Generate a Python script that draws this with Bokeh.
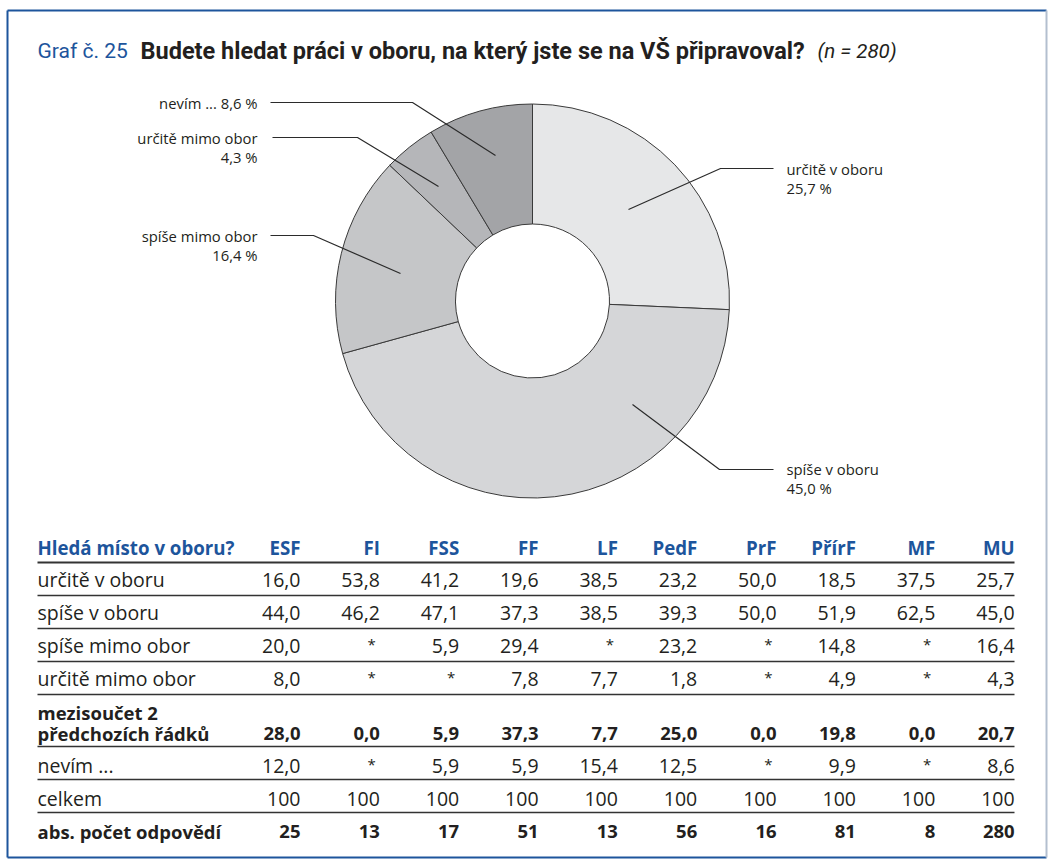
import numpy as np
from bokeh.plotting import figure
from bokeh.models import Range1d
from bokeh.core.properties import value
from bokeh.embed import file_html
from bokeh.resources import INLINE

# ---------------- data ----------------
pie_labels = ["určitě v oboru", "spíše v oboru", "spíše mimo obor", "určitě mimo obor", "nevím ..."]
pie_values = [25.7, 45.0, 16.4, 4.3, 8.6]
pie_colors = ["#e6e7e8", "#d5d6d8", "#c5c6c8", "#b5b6b9", "#a3a4a7"]

faculties = ["ESF", "FI", "FSS", "FF", "LF", "PedF", "PrF", "PřírF", "MF", "MU"]
row_labels = ["určitě v oboru", "spíše v oboru", "spíše mimo obor", "určitě mimo obor",
              "mezisoučet 2\npředchozích řádků", "nevím ...", "celkem", "abs. počet odpovědí"]
urcite_v = [16.0, 53.8, 41.2, 19.6, 38.5, 23.2, 50.0, 18.5, 37.5, 25.7]
spise_v = [44.0, 46.2, 47.1, 37.3, 38.5, 39.3, 50.0, 51.9, 62.5, 45.0]
spise_mimo = [20.0, None, 5.9, 29.4, None, 23.2, None, 14.8, None, 16.4]
urcite_mimo = [8.0, None, None, 7.8, 7.7, 1.8, None, 4.9, None, 4.3]
mezisoucet = [28.0, 0.0, 5.9, 37.3, 7.7, 25.0, 0.0, 19.8, 0.0, 20.7]
nevim = [12.0, None, 5.9, 5.9, 15.4, 12.5, None, 9.9, None, 8.6]
celkem = [100, 100, 100, 100, 100, 100, 100, 100, 100, 100]
abs_pocet = [25, 13, 17, 51, 13, 56, 16, 81, 8, 280]

rows = [urcite_v, spise_v, spise_mimo, urcite_mimo, mezisoucet, nevim, celkem, abs_pocet]
bold_rows = [False, False, False, False, True, False, False, True]

# ---------------- layout helpers ----------------
W, H = 1048, 862
def X(rx):
    return rx
def Y(ry):
    return H - ry

BLUE = "#1d559c"
TXT = "#231f20"
FONT = "Open Sans"

p = figure(width=W, height=H, x_range=Range1d(0, W), y_range=Range1d(0, H),
           output_backend="svg", toolbar_location=None, min_border=0,
           x_axis_type=None, y_axis_type=None)
p.outline_line_color = None
p.grid.visible = False
p.background_fill_color = "white"
p.border_fill_color = "white"

# frame
p.line(x=[X(7), X(1046)], y=[Y(10), Y(10)], line_color=BLUE, line_width=2)
p.line(x=[X(7), X(7)], y=[Y(10), Y(857)], line_color=BLUE, line_width=2)
p.line(x=[X(7), X(1046)], y=[Y(857), Y(857)], line_color=BLUE, line_width=2)
p.line(x=[X(1046), X(1046)], y=[Y(10), Y(857)], line_color="#b3bfcf", line_width=2)

# title
p.text(x=[X(37)], y=[Y(50)], text=["Graf č. 25"], text_color=BLUE,
       text_font=value("Roboto"), text_font_size="21px", text_baseline="middle")
p.text(x=[X(140)], y=[Y(50)], text=["Budete hledat práci v oboru, na který jste se na VŠ připravoval?"],
       text_color=TXT, text_font=value("Roboto"), text_font_size="23.5px",
       text_font_style="bold", text_baseline="middle")
p.text(x=[X(817)], y=[Y(50)], text=["(n = 280)"], text_color=TXT,
       text_font=value("Roboto"), text_font_size="20.5px", text_font_style="italic",
       text_baseline="middle")

# donut
vals = np.array(pie_values, dtype=float)
fr = vals / vals.sum()
cum = np.concatenate([[0.0], np.cumsum(fr)])
start = np.pi / 2 - 2 * np.pi * cum[:-1]
end = np.pi / 2 - 2 * np.pi * cum[1:]
cx, cy = X(532), Y(300.5)
p.annular_wedge(x=cx, y=cy, inner_radius=77, outer_radius=197,
                inner_radius_units="screen", outer_radius_units="screen",
                start_angle=start, end_angle=end, direction="clock",
                fill_color=pie_colors, line_color="#3a3a3a", line_width=1)

def fmt(v):
    if v is None:
        return "*"
    if isinstance(v, int):
        return str(v)
    return f"{v:.1f}".replace(".", ",")

pct = [fmt(v) + " %" for v in pie_values]

# leader lines (layout)
leaders = [
    [(628, 209), (720, 168), (773, 168)],
    [(632, 404), (719, 469), (773, 469)],
    [(400, 273), (313, 235), (270, 235)],
    [(438, 186), (357, 137), (272, 137)],
    [(495, 155), (412, 102), (270, 102)],
]
p.multi_line(xs=[[X(a) for a, b in L] for L in leaders],
             ys=[[Y(b) for a, b in L] for L in leaders],
             line_color="#2b2b2b", line_width=1.2)

LF = "14.8px"
# right labels
p.text(x=[X(786)] * 4, y=[Y(168), Y(187), Y(468), Y(487)],
       text=[pie_labels[0], pct[0], pie_labels[1], pct[1]],
       text_color=TXT, text_font=value(FONT), text_font_size=LF, text_baseline="middle")
# left labels
p.text(x=[X(257)] * 5, y=[Y(102), Y(137), Y(156), Y(235), Y(254)],
       text=[pie_labels[4] + " " + pct[4], pie_labels[3], pct[3], pie_labels[2], pct[2]],
       text_color=TXT, text_font=value(FONT), text_font_size=LF, text_baseline="middle",
       text_align="right")

# ---------------- table ----------------
col_right = [300 + i * 79.35 for i in range(len(faculties))]
header_y = 547
row_y = [579, 612, 645, 678, 733, 765, 798, 831]
line_y = [562, 595, 628, 661, 694, 746, 779, 812]
left = 37

p.text(x=[X(left)], y=[Y(header_y)], text=["Hledá místo v oboru?"], text_color=BLUE,
       text_font=value(FONT), text_font_size="18.7px", text_font_style="bold",
       text_baseline="middle")
p.text(x=[X(c) for c in col_right], y=[Y(header_y)] * len(faculties), text=faculties,
       text_color=BLUE, text_font=value(FONT), text_font_size="18.7px",
       text_font_style="bold", text_baseline="middle", text_align="right")

for i, ly in enumerate(line_y):
    p.line(x=[X(left), X(1014)], y=[Y(ly), Y(ly)], line_color="#333333",
           line_width=2 if i == 0 else 1.4)

for r, (lab, vals_r, b) in enumerate(zip(row_labels, rows, bold_rows)):
    style = "bold" if b else "normal"
    size = "18.5px" if b else "19.5px"
    yv = row_y[r]
    if "\n" in lab:
        l1, l2 = lab.split("\n")
        p.text(x=[X(left), X(left)], y=[Y(712), Y(733)], text=[l1, l2], text_color=TXT,
               text_font=value(FONT), text_font_size=size, text_font_style=style,
               text_baseline="middle")
    else:
        p.text(x=[X(left)], y=[Y(yv)], text=[lab], text_color=TXT,
               text_font=value(FONT), text_font_size=size, text_font_style=style,
               text_baseline="middle")
    txts = [fmt(v) for v in vals_r]
    num_i = [k for k, t in enumerate(txts) if t != "*"]
    star_i = [k for k, t in enumerate(txts) if t == "*"]
    p.text(x=[X(col_right[k]) for k in num_i], y=[Y(yv)] * len(num_i),
           text=[txts[k] for k in num_i], text_color=TXT, text_font=value(FONT),
           text_font_size=size, text_font_style=style, text_baseline="middle",
           text_align="right")
    if star_i:
        p.text(x=[X(col_right[k] - 4) for k in star_i], y=[Y(yv - 2)] * len(star_i),
               text=["*"] * len(star_i), text_color=TXT, text_font=value(FONT),
               text_font_size="15px", text_baseline="middle", text_align="right")

open("out.html", "w").write(file_html(p, INLINE))
